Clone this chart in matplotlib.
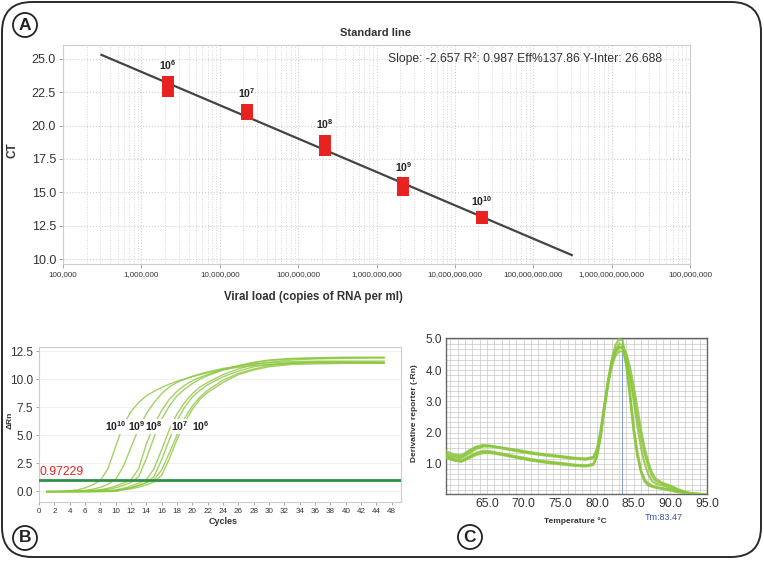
import numpy as np
import matplotlib
matplotlib.use("Agg")
import matplotlib.pyplot as plt
from matplotlib.patches import FancyBboxPatch
from matplotlib.ticker import MultipleLocator, LogLocator, NullFormatter

plt.rcParams['font.family'] = ['Liberation Sans', 'DejaVu Sans']
plt.rcParams['mathtext.fontset'] = 'custom'
plt.rcParams['mathtext.rm'] = 'Liberation Sans'
plt.rcParams['mathtext.bf'] = 'Liberation Sans:bold'

# ---- panel A : standard line ----
dil_labels = ['6', '7', '8', '9', '10']
dil_x = [2.2e6, 2.2e7, 2.2e8, 2.2e9, 2.2e10]
ct_low = [22.16, 20.45, 17.76, 14.70, 12.61]
ct_high = [23.73, 21.64, 19.33, 16.12, 13.58]
fit_x = [3.1e5, 3.1e11]
fit_ct = [25.3, 10.3]
a_xticks = [1e5, 1e6, 1e7, 1e8, 1e9, 1e10, 1e11, 1e12, 1e13]
a_xlabels = ['100,000', '1,000,000', '10,000,000', '100,000,000', '1,000,000,000',
             '10,000,000,000', '100,000,000,000', '1,000,000,000,000', '100,000,000']
a_yticks = [10.0, 12.5, 15.0, 17.5, 20.0, 22.5, 25.0]

# ---- panel B : amplification plot ----
cycles = [1, 3, 5, 6, 7, 8, 9, 10, 11, 12, 13, 14, 15, 16, 17, 18, 19, 20, 21, 22,
          24, 26, 28, 30, 33, 36, 40, 45]
rn_e10 = [-0.05, -0.02, 0.1, 0.28, 0.55, 0.95, 2.0, 4.0, 5.9, 7.1, 7.9, 8.5, 8.9, 9.25,
          9.55, 9.8, 10.0, 10.2, 10.4, 10.55, 10.85, 11.05, 11.2, 11.3, 11.4, 11.45, 11.45, 11.45]
rn_e9 = [-0.05, -0.04, 0.0, 0.06, 0.16, 0.33, 0.6, 1.05, 2.2, 3.9, 5.6, 6.9, 7.9, 8.7,
         9.3, 9.7, 10.0, 10.25, 10.45, 10.65, 10.95, 11.15, 11.35, 11.45, 11.55, 11.6, 11.6, 11.6]
rn_e8a = [-0.05, -0.05, -0.03, 0.0, 0.05, 0.12, 0.25, 0.45, 0.7, 1.0, 2.0, 4.2, 5.9, 7.2,
          8.2, 8.9, 9.45, 9.85, 10.15, 10.4, 10.85, 11.2, 11.5, 11.7, 11.85, 11.9, 11.95, 11.95]
rn_e8b = [-0.05, -0.05, -0.04, -0.02, 0.02, 0.07, 0.15, 0.3, 0.5, 0.75, 1.3, 2.9, 4.8, 6.4,
          7.6, 8.5, 9.1, 9.6, 10.0, 10.3, 10.8, 11.15, 11.45, 11.65, 11.8, 11.85, 11.9, 11.9]
rn_e7a = [-0.05, -0.05, -0.05, -0.04, -0.02, 0.0, 0.05, 0.1, 0.25, 0.45, 0.7, 1.0, 2.0, 3.7,
          5.5, 6.9, 7.9, 8.7, 9.3, 9.7, 10.4, 10.9, 11.3, 11.5, 11.7, 11.8, 11.85, 11.9]
rn_e7b = [-0.05, -0.05, -0.05, -0.05, -0.04, -0.02, 0.0, 0.05, 0.15, 0.3, 0.5, 0.75, 1.3, 2.8,
          4.6, 6.3, 7.5, 8.4, 9.0, 9.5, 10.2, 10.7, 11.1, 11.3, 11.45, 11.5, 11.5, 11.5]
rn_e6a = [-0.05, -0.05, -0.05, -0.05, -0.05, -0.04, -0.02, 0.02, 0.15, 0.3, 0.5, 0.75, 1.0, 1.9,
          3.4, 5.0, 6.5, 7.6, 8.4, 9.0, 9.9, 10.5, 10.9, 11.2, 11.4, 11.5, 11.5, 11.45]
rn_e6b = [-0.05, -0.05, -0.05, -0.05, -0.05, -0.05, -0.04, -0.02, 0.1, 0.2, 0.35, 0.55, 0.8, 1.4,
          2.9, 4.6, 6.1, 7.3, 8.2, 8.8, 9.7, 10.4, 10.8, 11.1, 11.3, 11.35, 11.4, 11.4]
threshold = 0.97229
b_curve_labels = ['10', '9', '8', '7', '6']
b_label_x = [10.0, 12.8, 15.0, 18.4, 21.1]
b_label_y = 5.76
b_xticks = list(range(0, 47, 2))
b_xlabels = [str(v) for v in range(0, 45, 2)] + ['48']
b_yticks = [0.0, 2.5, 5.0, 7.5, 10.0, 12.5]

# ---- panel C : melt curve ----
temps = [59.4, 60.5, 61.5, 62.5, 63.5, 64.5, 65.5, 67, 69, 71, 73, 75, 77, 78.5, 79.5,
         80, 80.5, 81, 81.5, 82, 82.5, 83, 83.5, 84, 84.5, 85, 85.5, 86, 86.5, 87, 87.5, 88,
         89, 90, 91, 92, 93, 94, 95]
melt_u1 = [1.32, 1.25, 1.22, 1.38, 1.52, 1.58, 1.57, 1.51, 1.43, 1.34, 1.28, 1.23, 1.17, 1.15, 1.2,
           1.45, 2.05, 2.9, 3.7, 4.35, 4.8, 5.0, 4.95, 4.3, 3.3, 2.2, 1.4, 0.8, 0.5, 0.37, 0.3, 0.26,
           0.22, 0.17, 0.11, 0.07, 0.04, 0.03, 0.02]
melt_u2 = [1.4, 1.3, 1.27, 1.42, 1.55, 1.6, 1.58, 1.52, 1.45, 1.37, 1.3, 1.25, 1.19, 1.17, 1.22,
           1.5, 2.1, 2.9, 3.65, 4.2, 4.55, 4.72, 4.75, 4.55, 4.1, 3.5, 2.8, 2.1, 1.5, 1.05, 0.72, 0.52,
           0.38, 0.3, 0.19, 0.1, 0.05, 0.03, 0.02]
melt_u3 = [1.28, 1.2, 1.18, 1.32, 1.47, 1.55, 1.55, 1.49, 1.4, 1.32, 1.26, 1.21, 1.15, 1.13, 1.18,
           1.42, 2.0, 2.8, 3.6, 4.2, 4.6, 4.75, 4.7, 4.4, 3.8, 3.0, 2.2, 1.5, 1.0, 0.65, 0.45, 0.36,
           0.3, 0.22, 0.14, 0.08, 0.05, 0.03, 0.02]
melt_l1 = [1.2, 1.12, 1.08, 1.2, 1.32, 1.38, 1.37, 1.3, 1.21, 1.12, 1.05, 1.0, 0.95, 0.93, 0.98,
           1.25, 1.9, 2.8, 3.6, 4.25, 4.65, 4.85, 4.8, 4.2, 3.2, 2.1, 1.3, 0.75, 0.45, 0.33, 0.28, 0.24,
           0.2, 0.15, 0.1, 0.06, 0.04, 0.03, 0.02]
melt_l2 = [1.25, 1.15, 1.1, 1.23, 1.35, 1.42, 1.4, 1.33, 1.24, 1.15, 1.08, 1.03, 0.97, 0.95, 1.0,
           1.28, 1.9, 2.75, 3.5, 4.1, 4.45, 4.6, 4.6, 4.35, 3.85, 3.2, 2.5, 1.85, 1.3, 0.9, 0.6, 0.45,
           0.35, 0.27, 0.17, 0.09, 0.05, 0.03, 0.02]
melt_l3 = [1.18, 1.1, 1.06, 1.17, 1.28, 1.34, 1.34, 1.28, 1.19, 1.1, 1.03, 0.98, 0.93, 0.91, 0.96,
           1.22, 1.85, 2.7, 3.55, 4.2, 4.6, 4.75, 4.7, 4.1, 3.1, 2.0, 1.25, 0.72, 0.43, 0.3, 0.26, 0.23,
           0.19, 0.14, 0.09, 0.05, 0.03, 0.02, 0.02]
tm = 83.47
c_xticks = [65.0, 70.0, 75.0, 80.0, 85.0, 90.0, 95.0]
c_yticks = [1.0, 2.0, 3.0, 4.0, 5.0]

RED = '#e8231f'
GREEN = '#8dc63f'
W, H = 764, 568


def px_box(x0, y0, x1, y1):
    # pixel box (from top-left) -> figure fraction rect
    return [x0 / W, 1 - y1 / H, (x1 - x0) / W, (y1 - y0) / H]


fig = plt.figure(figsize=(W / 100, H / 100), dpi=100)

# rounded outer frame
frame = FancyBboxPatch((0.02, 0.11), 7.59, 5.55, boxstyle="round,pad=0,rounding_size=0.3",
                       transform=fig.dpi_scale_trans, fc='white', ec='#2a2a2a', lw=1.4, zorder=-1)
fig.add_artist(frame)

for letter, (lx, ly) in zip(['A', 'B', 'C'], [(25, 25), (25, 538), (470, 537)]):
    fig.text(lx / W, 1 - ly / H, letter, ha='center', va='center', fontsize=12.5, fontweight='bold',
             color='#222', bbox=dict(boxstyle='circle,pad=0.26', fc='white', ec='#222', lw=1.3))

# ---------------- panel A ----------------
axA = fig.add_axes(px_box(63, 45, 690, 264))
axA.set_xscale('log')
axA.plot(fit_x, fit_ct, color='#444444', lw=1.6, zorder=3)
axA.vlines(dil_x, ct_low, ct_high, colors=RED, lw=8.6, zorder=4)
for lab, x, top in zip(dil_labels, dil_x, ct_high):
    axA.annotate(r'$\mathbf{10^{%s}}$' % lab, (x, top), xytext=(0, 2.5), textcoords='offset points',
                 ha='center', va='bottom', fontsize=7.5, color='#222')
axA.set_xlim(1e5, 1e13)
axA.set_ylim(9.63, 26.04)
axA.set_xticks(a_xticks)
axA.set_xticklabels(a_xlabels, fontsize=5.8, color='#333')
axA.xaxis.set_minor_locator(LogLocator(base=10, subs=np.arange(2, 10), numticks=20))
axA.xaxis.set_minor_formatter(NullFormatter())
axA.set_yticks(a_yticks)
axA.set_yticklabels(['%.1f' % v for v in a_yticks], fontsize=9, color='#333')
axA.tick_params(axis='both', which='major', length=3, width=0.6, color='#999', pad=2)
axA.tick_params(axis='x', which='minor', length=0)
axA.grid(True, which='major', color='#d0d0d0', ls=':', lw=0.8)
axA.grid(True, which='minor', axis='x', color='#d8d8d8', ls=':', lw=0.7)
for s in axA.spines.values():
    s.set_color('#cccccc')
axA.text(0.955, 0.94, 'Slope: -2.657 R²: 0.987 Eff%137.86 Y-Inter: 26.688', transform=axA.transAxes,
         ha='right', va='center', fontsize=8.7, color='#333')
fig.text(375 / W, 1 - 33 / H, 'Standard line', ha='center', va='center', fontsize=8, fontweight='bold',
         color='#333')
fig.text(12 / W, 1 - 150 / H, 'CT', ha='center', va='center', rotation=90, fontsize=8.5, fontweight='bold',
         color='#333')
fig.text(313 / W, 1 - 297 / H, 'Viral load (copies of RNA per ml)', ha='center', va='center', fontsize=8.3,
         fontweight='bold', color='#333')

# ---------------- panel B ----------------
axB = fig.add_axes(px_box(39, 347, 401, 502))
for rn in [rn_e10, rn_e9, rn_e8a, rn_e8b, rn_e7a, rn_e7b, rn_e6a, rn_e6b]:
    axB.plot(cycles, rn, color=GREEN, lw=1.0, alpha=0.8)
axB.axhline(threshold, color='#2f8f45', lw=2.0, zorder=3)
axB.text(0.05, threshold + 0.15, '%.5f' % threshold, color=RED, fontsize=8.7, ha='left', va='bottom')
for lab, x in zip(b_curve_labels, b_label_x):
    axB.text(x, b_label_y, r'$\mathbf{10^{%s}}$' % lab, ha='center', va='center', fontsize=7.6,
             color='#222', zorder=5, bbox=dict(boxstyle='square,pad=0.02', fc='white', ec='none'))
axB.set_xlim(0, 47.2)
axB.set_ylim(-0.98, 12.86)
axB.set_xticks(b_xticks)
axB.set_xticklabels(b_xlabels, fontsize=5.8, color='#333')
axB.set_yticks(b_yticks)
axB.set_yticklabels(['%.1f' % v for v in b_yticks], fontsize=8.5, color='#333')
axB.xaxis.set_minor_locator(MultipleLocator(4))
axB.tick_params(axis='both', which='major', length=2.5, width=0.6, color='#999', pad=2)
axB.tick_params(which='minor', length=0)
axB.grid(True, which='minor', axis='x', color='#eeeeee', lw=0.6)
axB.grid(True, which='major', axis='y', color='#eeeeee', lw=0.6)
for s in axB.spines.values():
    s.set_color('#cccccc')
fig.text(223 / W, 1 - 522 / H, 'Cycles', ha='center', va='center', fontsize=6.5, fontweight='bold',
         color='#333')
fig.text(10 / W, 1 - 420 / H, 'ΔRn', ha='center', va='center', rotation=90, fontsize=6,
         fontweight='bold', color='#333')

# ---------------- panel C ----------------
axC = fig.add_axes(px_box(446, 338, 707, 494))
for melt in [melt_u1, melt_u2, melt_u3, melt_l1, melt_l2, melt_l3]:
    axC.plot(temps, melt, color=GREEN, lw=1.5, alpha=0.85, zorder=3)
axC.axvline(tm, color='#6f8fd8', lw=0.6, zorder=2)
axC.set_xlim(59.4, 95.0)
axC.set_ylim(0.03, 5.03)
axC.set_xticks(c_xticks)
axC.set_xticklabels(['%.1f' % v for v in c_xticks], fontsize=8.8, color='#333')
axC.set_yticks(c_yticks)
axC.set_yticklabels(['%.1f' % v for v in c_yticks], fontsize=8.5, color='#333')
axC.xaxis.set_minor_locator(MultipleLocator(1))
axC.yaxis.set_minor_locator(MultipleLocator(1 / 6))
axC.tick_params(axis='both', which='major', length=0, pad=3)
axC.tick_params(which='minor', length=0)
axC.grid(True, which='both', color='#c8c8c8', lw=0.5)
axC.set_axisbelow(True)
for s in axC.spines.values():
    s.set_color('#666666')
    s.set_linewidth(1.0)
fig.text(575 / W, 1 - 521 / H, 'Temperature °C', ha='center', va='center', fontsize=6, fontweight='bold',
         color='#333')
fig.text(664 / W, 1 - 518 / H, 'Tm:%.2f' % tm, ha='center', va='center', fontsize=6.5, color='#3a4fb0')
fig.text(415 / W, 1 - 413 / H, 'Derivative reporter (-Rn)', ha='center', va='center', rotation=90,
         fontsize=6, fontweight='bold', color='#333')

fig.savefig('out.png', dpi=100)
